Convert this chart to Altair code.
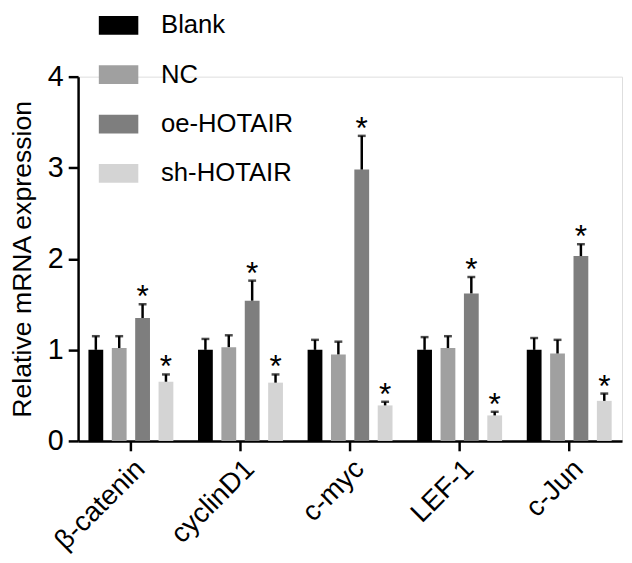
import altair as alt
import pandas as pd

genes = ["β-catenin", "cyclinD1", "c-myc", "LEF-1", "c-Jun"]
groups = ["Blank", "NC", "oe-HOTAIR", "sh-HOTAIR"]
colors = ["#000000", "#a0a0a0", "#7e7e7e", "#d4d4d4"]

blank_mean = [1.00, 1.00, 1.00, 1.00, 1.00]
blank_upper = [1.15, 1.12, 1.11, 1.14, 1.13]
nc_mean = [1.02, 1.03, 0.95, 1.02, 0.96]
nc_upper = [1.15, 1.16, 1.09, 1.15, 1.11]
oe_mean = [1.35, 1.54, 2.98, 1.62, 2.03]
oe_upper = [1.50, 1.76, 3.35, 1.80, 2.16]
sh_mean = [0.65, 0.64, 0.39, 0.28, 0.44]
sh_upper = [0.73, 0.73, 0.43, 0.32, 0.52]
significant = {"Blank": False, "NC": False, "oe-HOTAIR": True, "sh-HOTAIR": True}

means = [blank_mean, nc_mean, oe_mean, sh_mean]
uppers = [blank_upper, nc_upper, oe_upper, sh_upper]

rows = []
for g, m, u in zip(groups, means, uppers):
    for gene, mv, uv in zip(genes, m, u):
        rows.append({"gene": gene, "group": g, "mean": mv, "upper": uv,
                     "star": "*" if significant[g] else ""})
df = pd.DataFrame(rows)

FONT = "Liberation Sans"

x_enc = alt.X("gene:N", sort=genes,
              scale=alt.Scale(paddingInner=0.147, paddingOuter=0.0554),
              axis=alt.Axis(title=None, labelAngle=-45, labelFontSize=28,
                            labelFont=FONT, labelColor="black",
                            domainColor="black", domainWidth=2.5,
                            tickColor="black", tickWidth=2.5, tickSize=10,
                            labelPadding=4))
xo_enc = alt.XOffset("group:N", sort=groups,
                     scale=alt.Scale(paddingInner=0.367, paddingOuter=0.183))
y_scale = alt.Scale(domain=[0, 4], nice=False)
y_axis = alt.Axis(title="Relative mRNA expression", values=[0, 1, 2, 3, 4],
                  format="d", grid=False, labelFontSize=29, labelFont=FONT,
                  labelColor="black", titleFont=FONT, titleFontSize=27,
                  titleFontWeight="normal", titleColor="black",
                  domainColor="black", domainWidth=2.5, tickColor="black",
                  tickWidth=2.5, tickSize=10, labelPadding=5, titlePadding=11)

base = alt.Chart(df)

bars = base.mark_bar().encode(
    x=x_enc, xOffset=xo_enc,
    y=alt.Y("mean:Q", scale=y_scale, axis=y_axis),
    color=alt.Color("group:N", sort=groups,
                    scale=alt.Scale(domain=groups, range=colors),
                    legend=alt.Legend(title=None, orient="none", legendX=21,
                                      legendY=-72,
                                      symbolType="M-1,-0.475L1,-0.475L1,0.475L-1,0.475Z",
                                      symbolSize=1600, symbolStrokeWidth=0,
                                      symbolOpacity=1, labelFontSize=26,
                                      labelFont=FONT, labelColor="black",
                                      labelOffset=23, rowPadding=17,
                                      padding=0)),
)

rules = base.mark_rule(color="black", strokeWidth=2.5).encode(
    x=x_enc, xOffset=xo_enc,
    y=alt.Y("mean:Q", scale=y_scale),
    y2="upper:Q",
)

caps = base.mark_tick(color="black", thickness=2.5, size=8, orient="horizontal").encode(
    x=x_enc, xOffset=xo_enc,
    y=alt.Y("upper:Q", scale=y_scale),
)

stars = base.mark_text(fontSize=32, font=FONT, color="black",
                       baseline="alphabetic", dy=3).encode(
    x=x_enc, xOffset=xo_enc,
    y=alt.Y("upper:Q", scale=y_scale),
    text="star:N",
)

chart = alt.layer(bars, rules, caps, stars).properties(
    width=551, height=369,
    autosize=alt.AutoSizeParams(type="none"),
    padding={"left": 71, "top": 66, "right": 2, "bottom": 112},
).configure_view(stroke=None).configure(background="white")

chart.save("out.html", embed_options={"renderer": "svg", "actions": False})
